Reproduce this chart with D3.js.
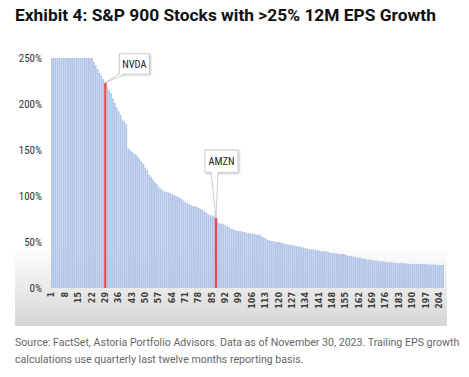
<!DOCTYPE html>
<html><head><meta charset="utf-8">
<script src="https://cdn.jsdelivr.net/npm/d3@7"></script>
<style>
html,body{margin:0;padding:0;background:#fff;}
svg{display:block;}
</style></head>
<body>
<svg id="c" width="469" height="377"></svg>
<script>
const title = "Exhibit 4: S&P 900 Stocks with >25% 12M EPS Growth";
const sourceLines = [
  "Source: FactSet, Astoria Portfolio Advisors. Data as of November 30, 2023. Trailing EPS growth",
  "calculations use quarterly last twelve months reporting basis."
];
const yTicks = [0, 50, 100, 150, 200, 250];
const highlights = [{rank: 29, label: "NVDA"}, {rank: 87, label: "AMZN"}];
// EPS growth (%) by rank, capped at 250%
const growth = [
  250,250,250,250,250,250,250,250,250,250, // 1-10
  250,250,250,250,250,250,250,250,250,250, // 11-20
  250,250,246,242,238,234,231,227,223,219, // 21-30
  215,212,206,201,196,192,188,183,181,178, // 31-40
  152,150,148,146,145,143,140,137,135,131, // 41-50
  128,123,121,118,115,113,110,108,106,105, // 51-60
  104,104,103,102,101,100,99,98,97,95,     // 61-70
  93,92,91,90,89,89,88,87,86,85,           // 71-80
  83,82,80,79,79,78,76,71,70,70,           // 81-90
  69,68,67,66,64,64,63,62,62,62,           // 91-100
  61,61,60,60,59,59,59,58,58,58,           // 101-110
  56,55,54,52,52,51,51,50,50,50,           // 111-120
  49,49,48,48,47,47,47,46,46,45,           // 121-130
  45,44,44,43,43,42,42,42,41,41,           // 131-140
  41,40,40,40,40,39,38,38,38,38,           // 141-150
  37,37,37,37,36,35,35,35,34,34,           // 151-160
  33,33,33,32,32,31,31,31,30,30,           // 161-170
  30,29,29,29,29,28,28,28,28,27.5,         // 171-180
  27.5,27,27,27,27,27,26.5,26.5,26,26,     // 181-190
  26,26,26,26,26,26,26,25.5,25.5,25.5,     // 191-200
  25.5,25.3,25.2,25.1,25,25                // 201-206
];
const ranks = growth.map((d, i) => i + 1);
const xTickLabels = ranks.filter(r => (r - 1) % 7 === 0);

const svg = d3.select("#c");
const defs = svg.append("defs");
const grad = defs.append("linearGradient").attr("id", "bg").attr("x1", 0).attr("y1", 0).attr("x2", 0).attr("y2", 1);
grad.append("stop").attr("offset", "0").attr("stop-color", "#ffffff");
grad.append("stop").attr("offset", "0.72").attr("stop-color", "#ffffff");
grad.append("stop").attr("offset", "1").attr("stop-color", "#d6d6d6");
const sh = defs.append("filter").attr("id", "sh").attr("x", "-20%").attr("y", "-20%").attr("width", "150%").attr("height", "160%");
sh.append("feDropShadow").attr("dx", 1).attr("dy", 1).attr("stdDeviation", 0.8).attr("flood-color", "#000").attr("flood-opacity", 0.25);

// chart area background
svg.append("rect").attr("x", 15).attr("y", 40).attr("width", 432).attr("height", 286).attr("fill", "url(#bg)");

const t = svg.append("text").attr("x", 15).attr("y", 21)
  .attr("font-family", "Roboto, 'Liberation Sans', sans-serif")
  .attr("font-weight", "bold").attr("font-size", "16px").attr("fill", "#111")
  .text(title);
const tw = t.node().getComputedTextLength();
t.attr("font-size", (16 * 421 / tw).toFixed(2) + "px");

const x = d3.scaleBand().domain(ranks).range([51, 444]).paddingInner(0.1).paddingOuter(0);
const y = d3.scaleLinear().domain([0, 250]).range([288, 58]);

const hl = new Set(highlights.map(h => h.rank));
svg.append("g").selectAll("rect").data(ranks).join("rect")
  .attr("x", d => hl.has(d) ? x(d) - 0.3 : x(d))
  .attr("width", d => hl.has(d) ? x.step() + 0.6 : x.bandwidth())
  .attr("y", d => y(growth[d - 1])).attr("height", d => y(0) - y(growth[d - 1]))
  .attr("fill", d => hl.has(d) ? "#ee4a4f" : "#b1c5e8");

// y axis
const yAxis = svg.append("g").attr("transform", "translate(44,0)")
  .call(d3.axisLeft(y).tickValues(yTicks).tickFormat(d => d + "%").tickSize(0).tickPadding(2));
yAxis.select(".domain").remove();
yAxis.selectAll("text").attr("font-family", "'Liberation Sans Narrow', 'Roboto Condensed', 'Arial Narrow', sans-serif")
  .attr("font-size", "11px").attr("fill", "#333");

// x axis
const xAxis = svg.append("g").attr("transform", "translate(0,288)")
  .call(d3.axisBottom(x).tickValues(xTickLabels).tickSize(0).tickPadding(0));
xAxis.select(".domain").remove();
xAxis.selectAll("text")
  .attr("font-family", "'DejaVu Sans', sans-serif").attr("font-weight", "bold")
  .attr("font-size", "8px").attr("fill", "#404040")
  .attr("transform", "rotate(-90)").attr("text-anchor", "end")
  .attr("x", -4).attr("y", 0).attr("dy", "0.32em");

// callouts
const calloutOffsets = {NVDA: {dx: 14, dy: -29, w: 30, h: 20}, AMZN: {dx: -11, dy: -68, w: 33, h: 22}};
highlights.forEach(h => {
  const cx = x(h.rank) + x.bandwidth() / 2;
  const cy = y(growth[h.rank - 1]);
  const o = calloutOffsets[h.label];
  const bx = cx + o.dx, by = cy + o.dy;
  const g = svg.append("g");
  let p;
  if (h.label === "NVDA") {
    p = [[bx + 1, by + o.h - 1], [cx, cy], [bx + 6, by + o.h]];
  } else {
    p = [[bx + 6, by + o.h], [cx, cy], [bx + 13, by + o.h]];
  }
  g.append("rect").attr("x", bx).attr("y", by).attr("width", o.w).attr("height", o.h)
    .attr("fill", "#fff").attr("stroke", "#bfbfbf").attr("stroke-width", 0.8).attr("filter", "url(#sh)");
  g.append("path").attr("d", d3.line()(p)).attr("fill", "#fff").attr("stroke", "#bfbfbf").attr("stroke-width", 0.8);
  g.append("rect").attr("x", bx + 0.5).attr("y", by + o.h - 2).attr("width", o.w - 1).attr("height", 1.6).attr("fill", "#fff");
  g.append("text").attr("x", bx + o.w / 2).attr("y", by + o.h / 2).attr("dy", "0.35em")
    .attr("text-anchor", "middle")
    .attr("font-family", "'Liberation Sans Narrow', 'Roboto Condensed', 'Arial Narrow', sans-serif")
    .attr("font-size", "10.5px").attr("fill", "#222").text(h.label);
});

// source
svg.append("g").selectAll("text").data(sourceLines).join("text")
  .attr("x", 15).attr("y", (d, i) => 346 + i * 17)
  .attr("font-family", "Roboto, 'Liberation Sans', sans-serif")
  .attr("font-size", "10.6px").attr("fill", "#666").text(d => d);
</script>
</body></html>
